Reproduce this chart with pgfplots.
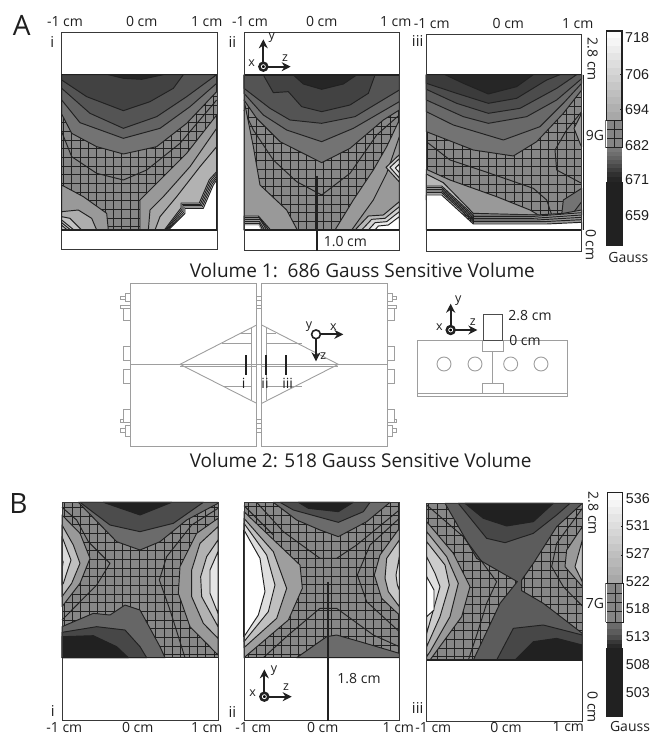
\documentclass[border=0pt]{standalone}
\usepackage{fontspec}
\setmainfont{Open Sans}
\newfontfamily\numfont{Liberation Sans}
\usepackage{pgfplots}
\pgfplotsset{compat=1.18}
\pgfplotsset{
  page/.style={width=655pt,height=736pt,scale only axis,at={(0,0)},anchor=south west,hide axis,y dir=reverse,no markers},
  crop/.style n args={2}{page,xmin=#1,xmax=#1+1965,ymin=#2,ymax=#2+2208},
}
\definecolor{K}{gray}{0.13}
\definecolor{GL}{gray}{0.62}
\newcommand\Pol[2]{\addplot[fill=white!#1!black,draw=K,line width=0.95pt,line join=round] coordinates {#2} -- cycle;}
\newcommand\Fil[2]{\addplot[fill=white!#1!black,draw=none] coordinates {#2} -- cycle;}
\newcommand\Lin[1]{\addplot[draw=K,line width=0.95pt,line join=round] coordinates {#1};}
\newcommand\LinW[2]{\addplot[draw=K,line width=#1,line join=miter] coordinates {#2};}
\newcommand\Frm[1]{\addplot[draw=black!78,line width=1pt] coordinates {#1} -- cycle;}
\newcommand\Dg[1]{\addplot[draw=GL,line width=0.9pt] coordinates {#1};}
\newcommand\DgC[1]{\addplot[draw=GL,line width=0.9pt] coordinates {#1} -- cycle;}
\newcommand\Hatch[6]{%
  \pgfplotsforeachungrouped \hx in {#1}{\edef\tmp{\noexpand\addplot[draw=K,line width=0.85pt] coordinates {(\hx,#3)(\hx,#4)};}\tmp}%
  \pgfplotsforeachungrouped \hy in {#2}{\edef\tmp{\noexpand\addplot[draw=K,line width=0.85pt] coordinates {(#5,\hy)(#6,\hy)};}\tmp}%
}
\newcommand\T[4]{\node[text=black!88,inner sep=0pt,#4] at (axis cs:#1) {\fontsize{#2}{#2}\selectfont #3};}
\newcommand\N[2]{\node[text=black!88,inner sep=0pt,anchor=west] at (axis cs:#1) {\numfont\fontsize{14.3}{14.3}\selectfont #2};}
\newcommand\Ax[5]{%
 \addplot[draw=K,line width=2pt,-{Stealth[length=9pt,width=9pt]}] coordinates {(#1,#2)(#1,#4)};
 \addplot[draw=K,line width=2pt,-{Stealth[length=9pt,width=9pt]}] coordinates {(#1,#2)(#3,#2)};
 \addplot[only marks,mark=*,mark size=4.4pt,mark options={fill=#5,draw=K,line width=1.6pt}] coordinates {(#1,#2)};
}
\usetikzlibrary{arrows.meta}
\begin{document}
\begin{tikzpicture}
\useasboundingbox (0,0) rectangle (655pt,736pt);

% ---------- A i (crop 1)
\begin{axis}[crop={0}{0}]
\Fil{53}{(185,224)(650,224)(650,690)(185,690)}
\Hatch{190,215,...,640}{238,264,...,680}{224}{690}{185}{650}
\Pol{45}{(185,224)(185,342)(215,400)(290,440)(370,462)(470,440)(560,370)(650,275)(650,224)}
\Pol{39}{(185,224)(185,300)(240,368)(370,415)(480,385)(570,320)(650,250)(650,224)}
\Pol{33}{(185,224)(185,265)(270,340)(370,385)(470,350)(560,290)(650,224)}
\Pol{26}{(185,224)(185,240)(260,290)(370,332)(450,305)(520,265)(550,224)}
\Pol{15}{(325,224)(370,235)(425,238)(490,224)}
\Lin{(185,395)(215,470)(290,520)(370,540)(440,510)(540,430)(650,300)}
\Pol{60}{(185,555)(250,590)(320,640)(325,690)(185,690)}
\Pol{68}{(185,635)(235,630)(275,655)(290,690)(185,690)}
\Pol{76}{(185,650)(210,655)(245,690)(185,690)}
\Lin{(185,660)(222,690)}\Lin{(185,668)(212,690)}\Lin{(185,676)(202,690)}
\Pol{60}{(420,690)(420,600)(470,550)(560,460)(650,345)(650,690)}
\Pol{65}{(445,690)(450,630)(490,590)(570,500)(650,385)(650,690)}
\Pol{70}{(465,690)(480,650)(530,590)(600,500)(650,440)(650,690)}
\Pol{76}{(493,690)(543,624)(543,609)(598,609)(628,539)(650,515)(650,690)}
\Pol{82}{(496,690)(546,628)(546,613)(601,613)(631,543)(650,521)(650,690)}
\Pol{88}{(499,690)(549,632)(549,617)(604,617)(634,547)(650,528)(650,690)}
\Pol{94}{(502,690)(552,636)(552,621)(607,621)(637,551)(650,534)(650,690)}
\Pol{100}{(505,690)(555,640)(555,625)(610,625)(640,555)(650,540)(650,690)}
\Frm{(185,97)(652,97)(652,748)(185,748)}
\LinW{1.6pt}{(183,224)(652,224)}
\LinW{1.9pt}{(183,690)(652,690)}
\LinW{1.2pt}{(184,224)(184,690)}
\T{65,75}{28}{A}{}
\T{157,125}{15}{i}{}
\T{195,65}{14}{-1 cm}{}
\T{425,65}{14}{0 cm}{}
\T{620,65}{14}{1 cm}{}
\T{750,65}{14}{-1 cm}{}
\T{965,65}{14}{0 cm}{}
\T{697,125}{15}{ii}{}
\end{axis}

% ---------- A ii (zoom 6)
\begin{axis}[crop={-720}{-180}]
\Fil{53}{(12,45)(478,45)(478,510)(12,510)}
\Hatch{25,50,...,470}{68,94,...,500}{45}{510}{12}{478}
\Pol{45}{(12,45)(12,120)(50,175)(120,245)(245,308)(330,265)(430,180)(478,150)(478,45)}
\Pol{40}{(12,45)(12,100)(70,165)(140,210)(245,245)(340,205)(478,125)(478,45)}
\Pol{33}{(12,45)(12,85)(90,145)(150,180)(245,190)(345,170)(478,90)(478,45)}
\Pol{26}{(70,45)(100,98)(145,95)(185,140)(245,155)(330,135)(385,100)(405,45)}
\Pol{15}{(160,45)(190,72)(245,88)(310,72)(350,45)}
\Lin{(12,150)(40,210)(100,300)(170,365)(245,405)(330,340)(410,225)(478,165)}
\Pol{60}{(12,120)(40,260)(60,375)(140,450)(172,510)(12,510)}
\Pol{60}{(285,510)(340,420)(400,330)(440,260)(478,180)(478,510)}
\Lin{(335,510)(400,420)(440,340)(478,230)}
\Pol{66}{(12,468)(55,468)(92,510)(12,510)}
\Lin{(12,473)(58,473)(86,510)}\Lin{(12,478)(60,478)(80,510)}\Lin{(12,484)(58,484)(74,510)}\Lin{(12,490)(58,490)(68,510)}
\Fil{100}{(12,496)(55,496)(62,510)(12,510)}
\Pol{78}{(478,284)(438,322)(478,366)}
\Pol{88}{(478,296)(450,322)(478,354)}
\Pol{100}{(478,312)(466,324)(478,338)}
\Pol{72}{(345,510)(385,468)(430,465)(478,425)(478,510)}
\Pol{82}{(365,510)(395,478)(435,475)(478,440)(478,510)}
\Pol{92}{(385,510)(405,488)(440,485)(478,455)(478,510)}
\Pol{100}{(405,510)(415,498)(445,495)(478,470)(478,510)}
\LinW{1.6pt}{(12,45)(478,45)}
\LinW{1.9pt}{(12,510)(478,510)}
\Frm{(12,-81)(478,-81)(478,573)(12,573)}
\LinW{2.2pt}{(230,348)(230,573)}
\T{316,546}{14}{1.0 cm}{}
\end{axis}
\begin{axis}[crop={0}{0}]
\Ax{790}{200}{872}{118}{K}
\addplot[only marks,mark=x,mark size=2pt,mark options={draw=white,line width=0.8pt}] coordinates {(790,200)};
\T{815,113}{12.5}{y}{}
\T{755,190}{12.5}{x}{}
\T{855,173}{12.5}{z}{}
\end{axis}

% ---------- A iii (crop 2)
\begin{axis}[crop={-990}{0}]
\Fil{53}{(289,224)(755,224)(755,690)(289,690)}
\Hatch{292,318,...,750}{240,266,...,680}{224}{690}{289}{755}
\Pol{45}{(289,224)(289,395)(430,450)(550,468)(620,425)(700,340)(755,270)(755,224)}
\Pol{41}{(289,224)(289,335)(370,375)(520,420)(630,380)(700,310)(755,250)(755,224)}
\Pol{36}{(289,224)(289,300)(400,350)(475,370)(590,350)(680,300)(755,236)(755,224)}
\Pol{30}{(289,224)(289,268)(380,310)(475,340)(570,325)(680,265)(740,224)}
\Pol{23}{(289,224)(289,250)(380,280)(475,310)(560,295)(650,240)(690,224)}
\Pol{15}{(345,224)(400,250)(475,282)(560,260)(610,224)}
\Lin{(289,425)(360,480)(480,520)(610,565)(650,600)(665,645)}
\Lin{(755,335)(710,390)(675,450)(680,510)(755,550)}
\Pol{60}{(755,340)(732,385)(752,435)(755,440)}
\Pol{45}{(695,645)(700,600)(755,565)(755,645)}
\Lin{(725,645)(755,605)}
\Pol{60}{(289,508)(360,540)(500,590)(600,630)(625,645)(430,650)(289,600)}
\Pol{72}{(289,522)(340,548)(430,640)(625,645)(430,655)(289,600)}
\Pol{60}{(430,645)(620,645)(700,640)(755,630)(755,690)(430,690)}
\Lin{(289,558)(335,558)(430,645)}
\Lin{(289,563)(335,563)(430,650)(600,650)(755,638)}
\Lin{(289,568)(335,568)(430,655)(610,655)(755,645)}
\Lin{(289,573)(335,573)(430,660)(620,660)(755,652)}
\Lin{(289,578)(335,578)(430,665)(640,665)(755,659)}
\Pol{100}{(289,585)(335,585)(430,672)(650,672)(755,667)(755,690)(289,690)}
\LinW{1.6pt}{(289,224)(755,224)}
\LinW{2.2pt}{(289,690)(757,690)}
\Frm{(289,103)(755,103)(755,755)(289,755)}
\T{197,65}{14}{1 cm}{}
\T{305,70}{14}{-1 cm}{}
\T{535,70}{14}{0 cm}{}
\T{743,70}{14}{1 cm}{}
\T{263,123}{15}{iii}{}
\T{788,178}{14}{2.8 cm}{rotate=-90}
\T{783,735}{14}{0 cm}{rotate=-90}
\T{795,407}{14}{9G}{}
\T{895,772}{14}{Gauss}{}
\end{axis}

% ---------- colour bar A (zoom 8)
\begin{axis}[crop={-1785}{-75}]
\Fil{99}{(37,18)(80,18)(80,40)(37,40)}
\Fil{96}{(37,40)(80,40)(80,62)(37,62)}
\Fil{93}{(37,62)(80,62)(80,84)(37,84)}
\Fil{90}{(37,84)(80,84)(80,106)(37,106)}
\Fil{87}{(37,106)(80,106)(80,128)(37,128)}
\Fil{84}{(37,128)(80,128)(80,150)(37,150)}
\Fil{81}{(37,150)(80,150)(80,172)(37,172)}
\Fil{78}{(37,172)(80,172)(80,194)(37,194)}
\Fil{75}{(37,194)(80,194)(80,216)(37,216)}
\Fil{72}{(37,216)(80,216)(80,238)(37,238)}
\Fil{69}{(37,238)(80,238)(80,260)(37,260)}
\Fil{66}{(37,260)(80,260)(80,288)(37,288)}
\Fil{52}{(37,288)(80,288)(80,368)(37,368)}
\Fil{47}{(37,368)(80,368)(80,382)(37,382)}
\Fil{43}{(37,382)(80,382)(80,394)(37,394)}
\Fil{39}{(37,394)(80,394)(80,406)(37,406)}
\Fil{34}{(37,406)(80,406)(80,418)(37,418)}
\Fil{29}{(37,418)(80,418)(80,430)(37,430)}
\Fil{24}{(37,430)(80,430)(80,442)(37,442)}
\Fil{19}{(37,442)(80,442)(80,456)(37,456)}
\Fil{15}{(37,456)(80,456)(80,470)(37,470)}
\Fil{13}{(34,470)(83,470)(83,662)(34,662)}
\Lin{(57,288)(57,368)}\Lin{(37,314)(80,314)}\Lin{(37,340)(80,340)}
\LinW{1.6pt}{(34,288)(34,18)(81,18)(81,288)}
\LinW{1.6pt}{(33,286)(83,286)(83,368)(33,368)}
\addplot[draw=black!55,line width=0.9pt] coordinates {(31,286)(31,368)};
\LinW{0.8pt}{(80,148)(76,148)}\LinW{0.8pt}{(80,252)(76,252)}
\N{90,38}{718}\N{90,148}{706}\N{90,254}{694}\N{90,361}{682}\N{90,465}{671}\N{90,572}{659}
\end{axis}

% ---------- centre diagram (crop 3)
\begin{axis}[crop={-300}{-795}]
\DgC{(90,55)(470,55)(470,543)(90,543)}
\DgC{(485,55)(863,55)(863,543)(485,543)}
\Dg{(90,298)(863,298)}
\Dg{(240,305)(470,305)}\Dg{(485,305)(715,305)}
\Dg{(470,180)(240,298)(470,415)}
\Dg{(485,180)(715,298)(485,415)}
\Dg{(455,190)(455,405)}\Dg{(500,190)(500,405)}
\Dg{(365,235)(455,235)}\Dg{(420,205)(455,205)}\Dg{(370,365)(455,365)}
\Dg{(500,235)(605,235)}\Dg{(500,205)(527,205)}\Dg{(500,365)(605,365)}
\DgC{(75,85)(90,85)(90,108)(75,108)}\DgC{(60,93)(75,93)(75,103)(60,103)}
\DgC{(60,120)(90,120)(90,130)(60,130)}\DgC{(70,130)(90,130)(90,165)(70,165)}
\DgC{(70,245)(90,245)(90,285)(70,285)}\DgC{(70,313)(90,313)(90,355)(70,355)}
\DgC{(70,433)(90,433)(90,472)(70,472)}\DgC{(60,462)(70,462)(70,472)(60,472)}
\DgC{(75,482)(90,482)(90,513)(75,513)}\DgC{(60,490)(75,490)(75,503)(60,503)}
\DgC{(863,85)(878,85)(878,108)(863,108)}\DgC{(878,93)(890,93)(890,103)(878,103)}
\DgC{(863,120)(890,120)(890,130)(863,130)}\DgC{(863,130)(883,130)(883,165)(863,165)}
\DgC{(863,245)(883,245)(883,285)(863,285)}\DgC{(863,313)(883,313)(883,355)(863,355)}
\DgC{(863,433)(883,433)(883,472)(863,472)}\DgC{(883,462)(890,462)(890,472)(883,472)}
\DgC{(863,482)(878,482)(878,513)(863,513)}\DgC{(878,490)(890,490)(890,503)(878,503)}
\DgC{(470,95)(485,95)(485,105)(470,105)}\DgC{(470,120)(485,120)(485,130)(470,130)}
\DgC{(470,462)(485,462)(485,475)(470,475)}\DgC{(470,490)(485,490)(485,503)(470,503)}
\LinW{2.2pt}{(438,270)(438,330)}\LinW{2.2pt}{(498,270)(498,330)}\LinW{2.2pt}{(558,270)(558,330)}
\T{431,355}{14}{i}{}
\T{495,355}{14}{ii}{}
\T{563,355}{14}{iii}{}
\addplot[draw=K,line width=2pt,-{Stealth[length=9pt,width=9pt]}] coordinates {(648,208)(730,208)};
\addplot[draw=K,line width=2pt,-{Stealth[length=9pt,width=9pt]}] coordinates {(648,208)(648,289)};
\addplot[only marks,mark=*,mark size=4.4pt,mark options={fill=white,draw=K,line width=1.6pt}] coordinates {(648,208)};
\T{627,185}{12.5}{y}{}
\T{700,185}{12.5}{x}{}
\T{670,272}{12.5}{z}{}
\DgC{(953,227)(1403,227)(1403,395)(953,395)}
\Dg{(953,385)(1403,385)}
\DgC{(1148,227)(1210,227)(1210,258)(1148,258)}
\DgC{(1148,355)(1210,355)(1210,385)(1148,385)}
\addplot[draw=GL,line width=1.3pt] coordinates {(1178,258)(1178,355)};
\addplot[only marks,mark=*,mark size=7pt,mark options={fill=white,draw=GL,line width=0.9pt}] coordinates {(1032,297)(1125,297)(1232,297)(1323,297)};
\addplot[draw=black!70,line width=1pt] coordinates {(1150,227)(1150,147)(1207,147)(1207,227)} -- cycle;
\Ax{1052}{195}{1132}{116}{K}
\addplot[only marks,mark=x,mark size=2pt,mark options={draw=white,line width=0.8pt}] coordinates {(1052,195)};
\T{1075,108}{12.5}{y}{}
\T{1018,185}{12.5}{x}{}
\T{1118,170}{12.5}{z}{}
\T{1290,152}{14}{2.8 cm}{}
\T{1275,226}{14}{0 cm}{}
\T{787,15}{19}{Volume 1:\ \ 686 Gauss Sensitive Volume}{}
\T{782,585}{19}{Volume 2: 518 Gauss Sensitive Volume}{}
\end{axis}

% ---------- B i (crop 4)
\begin{axis}[crop={0}{-1410}]
\Fil{53}{(186,97)(654,97)(654,563)(186,563)}
\Hatch{192,217,...,650}{112,138,...,556}{97}{563}{186}{654}
\Pol{42}{(235,97)(350,215)(420,240)(480,215)(560,150)(654,100)(654,97)}
\Pol{30}{(240,97)(330,165)(420,185)(520,160)(610,97)}
\Pol{13}{(310,97)(420,135)(515,97)}
\Lin{(186,112)(230,150)(265,215)(330,280)(290,345)(186,450)}
\Lin{(654,115)(575,165)(500,260)(478,330)(510,420)(555,563)}
\Pol{40}{(186,470)(280,430)(330,435)(375,405)(420,420)(480,530)(495,563)(186,563)}
\Pol{28}{(186,487)(290,470)(375,480)(420,530)(440,563)(186,563)}
\Pol{13}{(186,500)(280,497)(350,530)(385,563)(186,563)}
\Pol{60}{(186,135)(240,190)(270,265)(240,340)(186,410)}
\Pol{75}{(186,165)(220,225)(240,280)(215,340)(186,380)}
\Pol{86}{(186,200)(213,270)(190,340)(186,345)}
\Fil{13}{(186,265)(191,275)(188,295)(186,295)}
\Pol{60}{(654,145)(590,190)(540,290)(535,370)(570,470)(654,555)}
\Pol{70}{(654,170)(600,220)(575,300)(575,380)(610,460)(654,505)}
\Pol{80}{(654,210)(620,260)(602,320)(605,380)(654,470)}
\Pol{90}{(654,245)(630,300)(630,370)(654,430)}
\Frm{(186,97)(654,97)(654,752)(186,752)}
\LinW{1.2pt}{(186,563)(654,563)}
\T{55,100}{28}{B}{}
\T{158,722}{15}{i}{}
\T{193,773}{14}{-1 cm}{}
\T{413,771}{14}{0 cm}{}
\T{620,773}{14}{1 cm}{}
\T{760,773}{14}{-1 cm}{}
\T{968,773}{14}{0 cm}{}
\T{697,725}{15}{ii}{}
\end{axis}

% ---------- B ii (zoom 7)
\begin{axis}[crop={-720}{-1485}]
\Fil{53}{(12,22)(478,22)(478,488)(12,488)}
\Hatch{25,50,...,470}{35,61,...,480}{22}{488}{12}{478}
\Pol{42}{(100,22)(170,75)(240,105)(295,125)(380,80)(450,22)}
\Pol{30}{(120,22)(160,45)(295,82)(370,50)(390,22)}
\Pol{13}{(175,22)(205,40)(295,50)(340,22)}
\Lin{(50,22)(130,110)(240,190)(290,190)(350,150)(478,45)}
\Lin{(478,70)(390,150)(352,240)(380,320)(478,410)}
\Lin{(70,488)(145,420)(240,340)(290,340)(400,420)(478,455)}
\Pol{42}{(170,488)(260,425)(290,420)(360,440)(478,475)(478,488)}
\Lin{(12,32)(60,80)(100,120)}
\Pol{62}{(12,50)(180,210)(187,280)(145,375)(12,488)}
\Pol{75}{(12,70)(100,170)(140,280)(110,370)(12,458)}
\Pol{87}{(12,85)(80,180)(105,270)(85,350)(12,440)}
\Pol{100}{(12,105)(60,190)(75,290)(55,360)(12,425)}
\Pol{62}{(478,100)(420,180)(403,240)(425,310)(478,360)}
\Pol{78}{(478,135)(440,190)(435,250)(445,290)(478,335)}
\Pol{90}{(478,185)(468,240)(472,270)(478,285)}
\LinW{1.2pt}{(12,488)(478,488)}
\LinW{1.7pt}{(12,105)(12,425)}
\Frm{(12,22)(478,22)(478,675)(12,675)}
\end{axis}
\begin{axis}[crop={0}{-1410}]
\LinW{2.2pt}{(983,335)(983,752)}
\Ax{793}{680}{875}{598}{K}
\addplot[only marks,mark=x,mark size=2pt,mark options={draw=white,line width=0.8pt}] coordinates {(793,680)};
\T{822,601}{12.5}{y}{}
\T{758,668}{12.5}{x}{}
\T{858,650}{12.5}{z}{}
\end{axis}

% ---------- B iii (crop 5)
\begin{axis}[crop={-990}{-1410}]
\Fil{53}{(290,100)(757,100)(757,570)(290,570)}
\Hatch{296,322,...,750}{118,144,...,560}{100}{570}{290}{757}
\Pol{36}{(345,100)(440,265)(562,335)(510,400)(430,570)(757,570)(757,490)(640,400)(575,362)(575,330)(610,280)(680,170)(757,100)}
\Pol{28}{(385,100)(470,205)(525,218)(610,190)(680,135)(720,100)}
\Pol{13}{(405,100)(460,145)(530,168)(610,155)(670,100)}
\Pol{28}{(500,570)(550,475)(640,465)(757,495)(757,570)}
\Pol{13}{(555,570)(610,515)(680,505)(757,525)(757,570)}
\Lin{(290,105)(400,200)(500,335)(470,400)(445,480)(415,570)}
\Lin{(757,115)(680,220)(665,290)(700,350)(757,408)}
\Pol{60}{(290,155)(370,250)(420,350)(395,440)(300,570)(290,570)}
\Pol{70}{(290,185)(350,260)(385,340)(360,440)(300,545)(290,560)}
\Pol{80}{(290,215)(345,285)(358,345)(330,440)(290,530)}
\Pol{88}{(290,260)(315,310)(330,350)(310,420)(290,490)}
\Pol{100}{(290,320)(312,360)(312,420)(290,440)}
\Pol{60}{(757,170)(710,240)(705,290)(757,350)}
\Pol{76}{(757,210)(735,290)(757,335)}
\LinW{1.7pt}{(290,570)(757,570)}
\Frm{(290,100)(757,100)(757,755)(290,755)}
\T{87,625}{14}{1.8 cm}{}
\T{205,773}{14}{1 cm}{}
\T{310,773}{14}{-1 cm}{}
\T{528,771}{14}{0 cm}{}
\T{715,771}{14}{1 cm}{}
\T{263,715}{15}{iii}{}
\T{790,130}{14}{2.8 cm}{rotate=-90}
\T{788,712}{14}{0 cm}{rotate=-90}
\T{795,400}{14}{7G}{}
\T{900,770}{14}{Gauss}{}
\end{axis}

% ---------- colour bar B (zoom 9)
\begin{axis}[crop={-1785}{-1455}]
\Fil{99}{(37,22)(82,22)(82,44)(37,44)}
\Fil{96}{(37,44)(82,44)(82,66)(37,66)}
\Fil{93}{(37,66)(82,66)(82,88)(37,88)}
\Fil{90}{(37,88)(82,88)(82,110)(37,110)}
\Fil{87}{(37,110)(82,110)(82,132)(37,132)}
\Fil{84}{(37,132)(82,132)(82,154)(37,154)}
\Fil{81}{(37,154)(82,154)(82,176)(37,176)}
\Fil{78}{(37,176)(82,176)(82,198)(37,198)}
\Fil{75}{(37,198)(82,198)(82,220)(37,220)}
\Fil{72}{(37,220)(82,220)(82,245)(37,245)}
\Fil{69}{(37,245)(82,245)(82,270)(37,270)}
\Fil{66}{(37,270)(82,270)(82,295)(37,295)}
\Fil{52}{(37,295)(82,295)(82,412)(37,412)}
\Fil{42}{(37,412)(82,412)(82,432)(37,432)}
\Fil{36}{(37,432)(82,432)(82,450)(37,450)}
\Fil{30}{(37,450)(82,450)(82,465)(37,465)}
\Fil{22}{(37,465)(82,465)(82,478)(37,478)}
\Fil{16}{(37,478)(82,478)(82,490)(37,490)}
\Fil{13}{(34,490)(85,490)(85,695)(34,695)}
\Lin{(60,295)(60,412)}\Lin{(37,325)(82,325)}\Lin{(37,352)(82,352)}\Lin{(37,380)(82,380)}
\LinW{1.6pt}{(37,295)(37,22)(83,22)(83,295)}
\LinW{1.6pt}{(34,295)(85,295)(85,412)(34,412)}
\addplot[draw=black!55,line width=0.9pt] coordinates {(31,295)(31,412)};
\LinW{0.8pt}{(82,125)(78,125)}\LinW{0.8pt}{(82,210)(78,210)}
\N{92,40}{536}\N{92,123}{531}\N{92,207}{527}\N{92,290}{522}\N{92,372}{518}\N{92,455}{513}\N{92,540}{508}\N{92,622}{503}
\end{axis}
\end{tikzpicture}
\end{document}
